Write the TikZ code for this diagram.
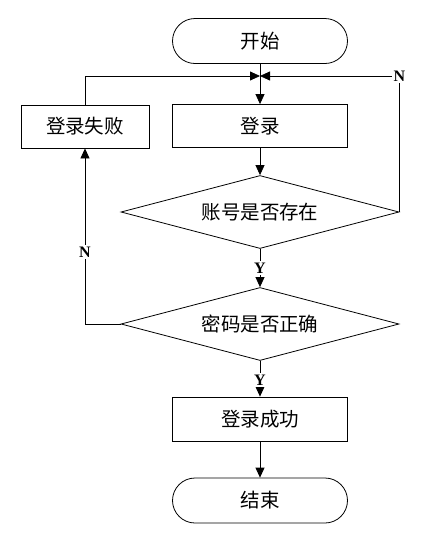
\documentclass[tikz,border=0pt]{standalone}
\usepackage{fontspec}
\setmainfont{Liberation Serif}
\newfontfamily\cjk{Noto Sans CJK SC}
\usetikzlibrary{shapes.misc,shapes.geometric,arrows.meta}
\tikzset{
  base/.style={draw, line width=0.8pt, inner sep=0pt, font=\cjk\fontsize{19.5}{22}\selectfont},
  term/.style={base, rounded rectangle, minimum width=175pt, minimum height=45pt},
  proc/.style={base, rectangle, minimum width=175pt, minimum height=43pt},
  dec/.style={base, diamond, shape aspect=4, minimum width=278pt, minimum height=73pt},
  conn/.style={line width=0.8pt, -{Triangle[length=10pt,width=9pt]}},
  yn/.style={fill=white, inner sep=1.5pt, font=\bfseries\fontsize{16}{18}\selectfont}
}
\begin{document}
\begin{tikzpicture}[x=1pt,y=-1pt]
\useasboundingbox (0,0) rectangle (435,542);
\node[term] (start) at (260,41) {开始};
\node[proc] (login) at (260,126) {登录};
\node[proc, minimum width=128pt] (fail) at (85,126.5) {登录失败};
\node[dec] (d1) at (260,212) {账号是否存在};
\node[dec] (d2) at (260,324) {密码是否正确};
\node[proc, minimum height=44pt] (ok) at (260,419) {登录成功};
\node[term] (stop) at (260,500.5) {结束};
\coordinate (j) at (260,76);
\coordinate (rc) at (d1.east |- j);
\coordinate (lc) at (fail.north |- d2.west);

\draw[conn] (start.south) -- (login.north);
\draw[conn] (fail.north) |- (j);
\draw[conn] (d1.east) -- (rc) -- (j);
\draw[conn] (login.south) -- (d1.north);
\draw[conn] (d1.south) -- (d2.north);
\draw[conn] (d2.west) -- (lc) -- (fail.south);
\draw[conn] (d2.south) -- (ok.north);
\draw[conn] (ok.south) -- (stop.north);

\node[yn] (n1) at (rc) {N};
\node[yn] (n2) at (85,252) {N};
\node[yn] (y1) at (260,268) {Y};
\node[yn] (y2) at (260,380) {Y};
\end{tikzpicture}
\end{document}
